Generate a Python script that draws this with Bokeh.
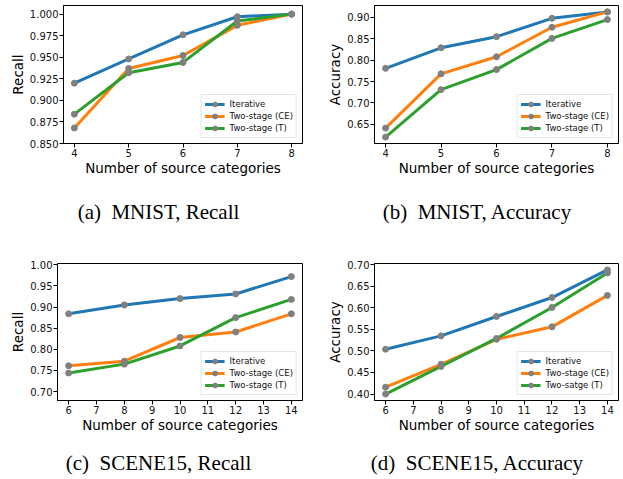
from bokeh.plotting import figure
from bokeh.models import FixedTicker, PrintfTickFormatter, Legend, LegendItem, Range1d
from bokeh.core.properties import value
from bokeh.layouts import column, row
from bokeh.embed import file_html
from bokeh.resources import INLINE

# ---------------- data ----------------
series_names = ["Iterative", "Two-stage (CE)", "Two-stage (T)"]
series_names_d = ["Iterative", "Two-stage (CE)", "Two-satge (T)"]
series_colors = ["#1f77b4", "#ff7f0e", "#2ca02c"]

mnist_x = [4, 5, 6, 7, 8]
mnist_recall_iter = [0.920, 0.948, 0.976, 0.997, 1.000]
mnist_recall_ce = [0.868, 0.937, 0.952, 0.987, 1.000]
mnist_recall_t = [0.884, 0.932, 0.944, 0.992, 1.000]

mnist_acc_iter = [0.781, 0.829, 0.855, 0.898, 0.913]
mnist_acc_ce = [0.641, 0.768, 0.808, 0.877, 0.913]
mnist_acc_t = [0.620, 0.731, 0.778, 0.851, 0.895]

scene_x = [6, 8, 10, 12, 14]
scene_recall_iter = [0.884, 0.905, 0.920, 0.931, 0.972]
scene_recall_ce = [0.761, 0.772, 0.828, 0.841, 0.884]
scene_recall_t = [0.744, 0.765, 0.808, 0.875, 0.918]

scene_acc_iter = [0.504, 0.535, 0.580, 0.624, 0.688]
scene_acc_ce = [0.416, 0.469, 0.527, 0.556, 0.629]
scene_acc_t = [0.400, 0.464, 0.529, 0.601, 0.681]

mnist_xticks = [4, 5, 6, 7, 8]
scene_xticks = [6, 7, 8, 9, 10, 11, 12, 13, 14]
mnist_recall_yticks = [0.850, 0.875, 0.900, 0.925, 0.950, 0.975, 1.000]
mnist_acc_yticks = [0.65, 0.70, 0.75, 0.80, 0.85, 0.90]
scene_recall_yticks = [0.70, 0.75, 0.80, 0.85, 0.90, 0.95, 1.00]
scene_acc_yticks = [0.40, 0.45, 0.50, 0.55, 0.60, 0.65, 0.70]

captions_top = ["(a)\u00a0\u00a0MNIST, Recall", "(b)\u00a0\u00a0MNIST, Accuracy"]
captions_bottom = ["(c)\u00a0\u00a0SCENE15, Recall", "(d)\u00a0\u00a0SCENE15, Accuracy"]
x_label = "Number of source categories"

SANS = "DejaVu Sans"
SERIF = "Liberation Serif"
PAGE_W = 622


def make_panel(xs, ys_list, names, xr, yr, xticks, yticks, yfmt, ylabel,
               width, height, bl, br, bt, bb):
    p = figure(width=width, height=height, output_backend="svg", toolbar_location=None,
               x_range=Range1d(*xr), y_range=Range1d(*yr),
               min_border_left=bl, min_border_right=br, min_border_top=bt, min_border_bottom=bb)
    p.xgrid.visible = False
    p.ygrid.visible = False
    p.outline_line_color = "black"
    p.outline_line_width = 1
    p.background_fill_color = "white"
    p.border_fill_color = "white"

    p.xaxis.ticker = FixedTicker(ticks=xticks)
    p.yaxis.ticker = FixedTicker(ticks=yticks)
    p.yaxis.formatter = PrintfTickFormatter(format=yfmt)
    for ax in (p.xaxis[0], p.yaxis[0]):
        ax.axis_line_color = "black"
        ax.major_tick_line_color = "black"
        ax.minor_tick_line_color = None
        ax.major_tick_in = 0
        ax.major_tick_out = 4
        ax.major_label_text_font = SANS
        ax.major_label_text_font_size = "10px"
        ax.major_label_text_color = "#111111"
        ax.axis_label_text_font = SANS
        ax.axis_label_text_font_size = "13.5px"
        ax.axis_label_text_font_style = "normal"
        ax.axis_label_text_color = "black"
    p.xaxis.major_label_standoff = 1
    p.xaxis.axis_label_standoff = 0
    p.yaxis.major_label_standoff = 1
    p.yaxis.axis_label_standoff = 1
    p.xaxis.axis_label = x_label
    p.yaxis.axis_label = ylabel

    items = []
    for ys, name, col in zip(ys_list, names, series_colors):
        lr = p.line(xs, ys, line_color=col, line_width=3)
        sr = p.scatter(xs, ys, size=6, fill_color="#808080", line_color="#808080")
        items.append(LegendItem(label=name, renderers=[lr, sr]))

    legend = Legend(items=items, location="bottom_right", margin=5, padding=3, spacing=0,
                    glyph_height=12, glyph_width=20, label_height=12, label_standoff=5,
                    label_text_font=SANS, label_text_font_size="8.5px",
                    label_text_color="#111111",
                    border_line_color="#cccccc", border_line_width=1,
                    background_fill_color="white", background_fill_alpha=0.8)
    p.add_layout(legend)
    return p


def make_caption_strip(texts, centers, height, baseline):
    s = figure(width=PAGE_W, height=height, output_backend="svg", toolbar_location=None,
               x_range=Range1d(0, PAGE_W), y_range=Range1d(0, height),
               x_axis_location=None, y_axis_location=None, min_border=0)
    s.xgrid.visible = False
    s.ygrid.visible = False
    s.outline_line_color = None
    s.text(x=centers, y=[baseline] * len(texts), text=texts,
           text_align="center", text_baseline="alphabetic",
           text_font=value(SERIF), text_font_size="21px", text_color="black")
    return s


pa = make_panel(mnist_x, [mnist_recall_iter, mnist_recall_ce, mnist_recall_t], series_names,
                (3.8, 8.2), (0.850, 1.010), mnist_xticks, mnist_recall_yticks, "%.3f", "Recall",
                311, 185, 63, 9, 5, 42)
pb = make_panel(mnist_x, [mnist_acc_iter, mnist_acc_ce, mnist_acc_t], series_names,
                (3.8, 8.2), (0.605, 0.928), mnist_xticks, mnist_acc_yticks, "%.2f", "Accuracy",
                311, 185, 63, 4, 5, 42)
pc = make_panel(scene_x, [scene_recall_iter, scene_recall_ce, scene_recall_t], series_names,
                (5.6, 14.4), (0.679, 1.003), scene_xticks, scene_recall_yticks, "%.2f", "Recall",
                311, 192, 57, 9, 18, 37)
pd_ = make_panel(scene_x, [scene_acc_iter, scene_acc_ce, scene_acc_t], series_names_d,
                 (5.6, 14.4), (0.385, 0.703), scene_xticks, scene_acc_yticks, "%.2f", "Accuracy",
                 311, 192, 63, 4, 18, 37)

cap_top = make_caption_strip(captions_top, [158, 477], 60, 34)
cap_bottom = make_caption_strip(captions_bottom, [158, 477], 41, 16)

layout = column(row(pa, pb, spacing=0), cap_top, row(pc, pd_, spacing=0), cap_bottom, spacing=0)

open("out.html", "w").write(file_html(layout, INLINE))
